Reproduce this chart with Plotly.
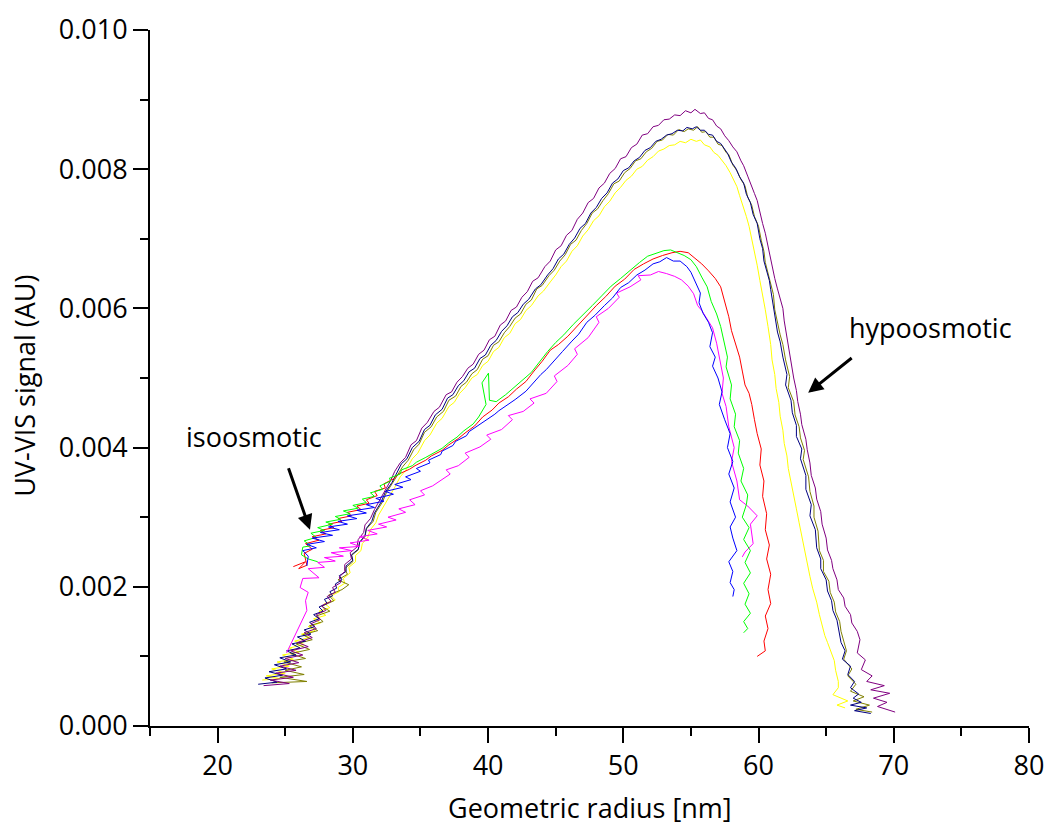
import plotly.graph_objects as go

# ---- data: (geometric radius [nm], UV-VIS signal [AU]) ----
navy = [
(23.0,.00060),(24.4,.00063),(23.5,.00069),(24.8,.00073),(23.8,.00078),(25.1,.00082),(24.2,.00088),(25.4,.00092),(24.6,.00098),(25.8,.00102),(25.1,.00108),(26.1,.00112),(25.5,.00118),(26.5,.00122),(25.9,.00128),(26.9,.00132),(26.4,.00138),(27.2,.00143),(26.8,.00149),(27.5,.00154),(27.1,.00160),(27.8,.00165),(27.5,.00171),(28.1,.00176),(27.9,.00182),(28.5,.00187),(28.3,.00193),(28.8,.00198),(28.7,.00204),(29.2,.00210),(29.0,.00216),(29.5,.00222),(29.5,.00230),(30.0,.00238),(29.9,.00246),(30.4,.00254),(30.5,.00264),(30.9,.00274),(31.0,.00284),(31.4,.00294),(31.6,.00306),(32.1,.00322),(32.4,.00336),(32.9,.00350),(33.6,.00377),(34.0,.00384),(34.4,.00400),(34.9,.00409),(35.3,.00426),(35.7,.00432),(36.1,.00447),(36.6,.00455),(37.0,.00471),(37.4,.00476),(37.8,.00489),(38.2,.00496),(38.6,.00509),(39.0,.00514),(39.4,.00528),(39.8,.00533),(40.2,.00547),(40.6,.00554),(41.0,.00567),(41.4,.00575),(41.8,.00588),(42.2,.00594),(42.6,.00606),(43.0,.00613),(43.5,.00628),(43.9,.00634),(44.4,.00648),(44.8,.00657),(45.2,.00671),(45.6,.00678),(46.0,.00692),(46.4,.00701),(46.8,.00715),(47.2,.00722),(47.6,.00737),(48.0,.00745),(48.4,.00758),(48.8,.00766),(49.2,.00780),(49.6,.00786),(50.0,.00798),(50.4,.00802),(50.8,.00812),(51.2,.00817),(51.6,.00827),(52.0,.00831),(52.4,.00840),(52.8,.00843),(53.2,.00849),(53.6,.00851),(54.0,.00856),(54.4,.00855),(54.7,.00860),(55.1,.00858),(55.4,.00861),(55.7,.00856),(56.0,.00856),(56.3,.00850),(56.6,.00849),(56.9,.00840),(57.2,.00837),(57.5,.00828),(57.7,.00823),(58.0,.00810),(58.3,.00802),(58.6,.00789),(58.9,.00780),(59.1,.00764),(59.4,.00752),(59.6,.00735),(59.9,.00722),(60.1,.00700),(60.3,.00686),(60.4,.00668),(60.6,.00655),(60.8,.00640),(60.9,.00627),(61.1,.00603),(61.3,.00583),(61.4,.00566),(61.6,.00552),(61.7,.00540),(61.8,.00530),(62.1,.00505),(62.0,.00490),(62.4,.00468),(62.5,.00450),(62.8,.00432),(62.8,.00416),(63.2,.00398),(63.1,.00384),(63.5,.00360),(63.5,.00340),(63.9,.00318),(63.8,.00302),(64.2,.00282),(64.3,.00256),(64.6,.00240),(64.6,.00226),(65.0,.00210),(65.1,.00194),(65.4,.00180),(65.5,.00166),(65.8,.00152),(66.0,.00134),(66.1,.00120),(66.4,.00108),(66.2,.00096),(66.8,.00086),(66.6,.00074),(67.1,.00064),(66.8,.00055),(67.4,.00046),(67.0,.00040),(67.6,.00034),(66.8,.00030),(68.0,.00026),(67.1,.00022),(68.3,.00018)
]
olive = [
(24.0,.00062),(26.6,.00064),(24.6,.00070),(26.4,.00074),(25.0,.00080),(26.2,.00085),(24.9,.00092),(26.5,.00097),(25.4,.00104),(26.8,.00110),(25.8,.00118),(27.0,.00124),(26.3,.00131),(27.4,.00137),(26.8,.00144),(27.8,.00150),(27.3,.00158),(28.3,.00165),(27.7,.00172),(28.6,.00180),(28.2,.00188),(29.2,.00196),(29.7,.00203),(28.9,.00210),(29.6,.00218),(29.4,.00226),(30.0,.00236),(29.9,.00245),(30.4,.00253),(30.5,.00264),(30.9,.00272),(31.0,.00283),(31.5,.00294),(31.7,.00307),(32.2,.00322),(32.5,.00336),(32.9,.00348),(33.3,.00360),(33.7,.00373),(34.1,.00382),(34.5,.00397),(34.9,.00405),(35.3,.00422),(35.8,.00430),(36.2,.00444),(36.7,.00452),(37.1,.00468),(37.6,.00474),(38.0,.00488),(38.4,.00494),(38.8,.00506),(39.2,.00512),(39.6,.00527),(40.0,.00532),(40.4,.00547),(40.8,.00552),(41.2,.00565),(41.6,.00574),(42.0,.00586),(42.4,.00592),(42.8,.00606),(43.2,.00612),(43.6,.00628),(44.0,.00633),(44.5,.00647),(44.9,.00655),(45.3,.00668),(45.7,.00677),(46.1,.00692),(46.5,.00698),(46.9,.00712),(47.3,.00722),(47.7,.00737),(48.1,.00743),(48.5,.00755),(48.9,.00765),(49.3,.00779),(49.7,.00783),(50.1,.00795),(50.5,.00801),(50.9,.00812),(51.3,.00815),(51.7,.00825),(52.1,.00830),(52.5,.00840),(52.9,.00842),(53.3,.00850),(53.7,.00849),(54.1,.00857),(54.5,.00854),(54.8,.00858),(55.2,.00856),(55.5,.00861),(55.8,.00853),(56.1,.00854),(56.4,.00846),(56.7,.00846),(57.0,.00836),(57.3,.00834),(57.6,.00824),(57.8,.00821),(58.1,.00806),(58.4,.00798),(58.7,.00785),(59.0,.00776),(59.2,.00760),(59.5,.00748),(59.7,.00732),(60.0,.00718),(60.2,.00698),(60.4,.00682),(60.5,.00666),(60.7,.00652),(60.9,.00636),(61.1,.00620),(61.2,.00598),(61.4,.00578),(61.6,.00562),(61.8,.00548),(61.9,.00536),(62.0,.00526),(62.3,.00502),(62.2,.00486),(62.6,.00466),(62.7,.00447),(63.0,.00430),(63.1,.00414),(63.4,.00396),(63.3,.00383),(63.7,.00358),(63.8,.00337),(64.1,.00316),(64.1,.00300),(64.4,.00280),(64.5,.00252),(64.8,.00238),(64.8,.00222),(65.2,.00208),(65.3,.00192),(65.6,.00178),(65.7,.00164),(66.0,.00150),(66.1,.00136),(66.3,.00122),(66.5,.00108),(66.3,.00096),(66.9,.00082),(66.6,.00072),(67.2,.00060),(66.8,.00050),(67.8,.00042),(67.0,.00036),(68.2,.00030),(67.2,.00024),(68.4,.00020)
]
purple = [
(23.4,.00058),(25.3,.00061),(23.9,.00066),(25.6,.00070),(24.3,.00076),(25.8,.00080),(24.6,.00086),(26.0,.00091),(25.0,.00097),(26.3,.00102),(25.4,.00108),(26.7,.00114),(25.9,.00120),(27.0,.00127),(26.4,.00134),(27.3,.00140),(26.9,.00147),(27.6,.00153),(27.3,.00160),(28.0,.00166),(27.7,.00173),(28.4,.00179),(28.1,.00186),(28.7,.00192),(28.5,.00199),(29.1,.00206),(29.0,.00214),(29.4,.00222),(29.4,.00232),(29.9,.00240),(29.8,.00249),(30.3,.00257),(30.4,.00268),(30.8,.00278),(30.9,.00289),(31.3,.00298),(31.6,.00311),(32.0,.00325),(32.4,.00340),(32.8,.00353),(33.1,.00366),(33.5,.00378),(33.9,.00386),(34.3,.00404),(34.7,.00410),(35.1,.00428),(35.5,.00436),(36.0,.00452),(36.4,.00458),(36.9,.00476),(37.3,.00480),(37.7,.00494),(38.1,.00502),(38.5,.00514),(38.9,.00520),(39.3,.00534),(39.7,.00540),(40.1,.00555),(40.5,.00560),(40.9,.00576),(41.3,.00582),(41.7,.00597),(42.1,.00602),(42.5,.00616),(42.9,.00624),(43.3,.00639),(43.7,.00644),(44.2,.00660),(44.6,.00668),(45.0,.00684),(45.4,.00690),(45.8,.00705),(46.2,.00712),(46.6,.00728),(47.0,.00737),(47.4,.00752),(47.8,.00758),(48.2,.00773),(48.6,.00780),(49.0,.00794),(49.4,.00801),(49.8,.00815),(50.2,.00818),(50.6,.00831),(51.0,.00836),(51.4,.00849),(51.8,.00851),(52.2,.00861),(52.6,.00863),(53.0,.00871),(53.4,.00872),(53.8,.00878),(54.2,.00877),(54.6,.00884),(55.0,.00881),(55.3,.00886),(55.7,.00880),(56.0,.00881),(56.3,.00873),(56.6,.00871),(56.9,.00862),(57.2,.00858),(57.5,.00848),(57.8,.00841),(58.1,.00832),(58.4,.00825),(58.7,.00812),(58.9,.00805),(59.2,.00790),(59.4,.00781),(59.7,.00765),(59.9,.00755),(60.1,.00736),(60.3,.00722),(60.5,.00708),(60.6,.00698),(60.8,.00678),(61.0,.00662),(61.2,.00643),(61.4,.00628),(61.6,.00612),(61.8,.00600),(61.9,.00582),(62.0,.00570),(62.2,.00548),(62.3,.00535),(62.5,.00515),(62.6,.00500),(62.8,.00482),(62.9,.00466),(63.1,.00448),(63.2,.00433),(63.5,.00412),(63.6,.00397),(63.8,.00378),(63.9,.00360),(64.2,.00342),(64.3,.00326),(64.6,.00308),(64.7,.00290),(65.0,.00270),(65.1,.00253),(65.4,.00238),(65.5,.00226),(65.8,.00210),(65.9,.00196),(66.3,.00184),(66.4,.00172),(66.8,.00160),(66.9,.00148),(67.3,.00136),(67.5,.00124),(67.3,.00105),(67.9,.00095),(67.6,.00081),(68.4,.00072),(68.0,.00064),(69.3,.00058),(68.3,.00052),(69.7,.00047),(68.5,.00040),(69.5,.00034),(68.8,.00028),(70.1,.00020)
]
yellow = [
(23.3,.00066),(24.6,.00068),(23.6,.00072),(25.0,.00076),(24.0,.00082),(25.3,.00086),(24.4,.00092),(25.6,.00096),(24.8,.00102),(26.0,.00106),(25.3,.00112),(26.4,.00117),(25.7,.00122),(26.8,.00127),(26.2,.00132),(27.2,.00137),(26.7,.00143),(27.6,.00148),(27.1,.00154),(28.0,.00159),(27.5,.00165),(28.3,.00170),(27.9,.00176),(28.7,.00181),(28.4,.00187),(29.0,.00193),(28.9,.00199),(29.4,.00205),(29.3,.00212),(29.8,.00220),(29.7,.00228),(30.2,.00236),(30.2,.00245),(30.6,.00252),(30.7,.00262),(31.1,.00271),(31.3,.00282),(31.7,.00292),(31.9,.00303),(32.3,.00316),(32.7,.00331),(33.1,.00343),(33.5,.00358),(33.9,.00367),(34.4,.00384),(34.8,.00392),(35.3,.00410),(35.7,.00418),(36.2,.00435),(36.6,.00442),(37.1,.00459),(37.5,.00465),(37.9,.00478),(38.3,.00486),(38.8,.00500),(39.2,.00505),(39.6,.00518),(40.0,.00524),(40.4,.00538),(40.8,.00544),(41.2,.00558),(41.6,.00564),(42.0,.00578),(42.4,.00584),(42.8,.00597),(43.2,.00604),(43.7,.00618),(44.1,.00625),(44.6,.00638),(45.0,.00648),(45.4,.00660),(45.8,.00668),(46.2,.00682),(46.6,.00690),(47.0,.00704),(47.4,.00713),(47.8,.00726),(48.2,.00733),(48.6,.00746),(49.0,.00754),(49.4,.00766),(49.8,.00774),(50.2,.00784),(50.6,.00790),(51.0,.00800),(51.4,.00804),(51.8,.00813),(52.2,.00818),(52.6,.00826),(53.0,.00829),(53.4,.00834),(53.8,.00835),(54.2,.00840),(54.6,.00838),(55.0,.00843),(55.4,.00840),(55.7,.00842),(56.0,.00835),(56.4,.00832),(56.7,.00824),(57.0,.00820),(57.3,.00812),(57.6,.00805),(57.9,.00795),(58.1,.00786),(58.4,.00775),(58.6,.00762),(58.9,.00745),(59.1,.00732),(59.3,.00718),(59.5,.00700),(59.7,.00680),(59.9,.00662),(60.1,.00640),(60.3,.00620),(60.5,.00598),(60.7,.00574),(60.9,.00548),(61.0,.00526),(61.2,.00505),(61.3,.00485),(61.5,.00465),(61.6,.00445),(61.8,.00425),(61.9,.00406),(62.1,.00388),(62.2,.00370),(62.4,.00352),(62.6,.00332),(62.8,.00312),(63.0,.00292),(63.2,.00272),(63.4,.00252),(63.6,.00232),(63.8,.00215),(64.0,.00198),(64.3,.00178),(64.5,.00160),(64.7,.00144),(64.9,.00130),(65.1,.00120),(65.3,.00110),(65.6,.00094),(65.7,.00080),(65.9,.00064),(65.9,.00055),(65.5,.00045),(66.6,.00036),(65.8,.00030),(66.4,.00026)
]
red = [
(25.6,.00229),(26.5,.00236),(26.0,.00226),(26.6,.00231),(26.4,.00248),(27.0,.00254),(26.5,.00262),(27.5,.00267),(27.0,.00272),(28.0,.00276),(27.6,.00281),(28.6,.00285),(28.2,.00290),(29.2,.00294),(28.9,.00298),(29.9,.00302),(29.6,.00307),(30.6,.00311),(30.3,.00316),(31.2,.00320),(31.0,.00325),(31.8,.00331),(31.6,.00337),(32.4,.00342),(32.3,.00348),(33.0,.00355),(33.4,.00362),(34.2,.00369),(34.6,.00374),(35.4,.00382),(35.8,.00388),(36.6,.00396),(37.1,.00404),(37.8,.00413),(38.3,.00421),(39.0,.00431),(39.6,.00444),(40.3,.00454),(40.8,.00464),(41.5,.00473),(42.1,.00484),(42.8,.00495),(43.4,.00510),(44.0,.00524),(44.6,.00540),(45.2,.00548),(45.9,.00560),(46.6,.00575),(47.3,.00590),(48.0,.00604),(48.7,.00617),(49.4,.00632),(50.1,.00642),(50.8,.00656),(51.5,.00664),(52.2,.00671),(52.9,.00676),(53.6,.00680),(54.2,.00682),(54.8,.00680),(55.3,.00672),(55.8,.00664),(56.3,.00654),(56.8,.00643),(57.2,.00631),(57.5,.00610),(57.8,.00588),(58.0,.00568),(58.3,.00548),(58.6,.00530),(58.8,.00510),(59.0,.00490),(59.3,.00478),(59.5,.00462),(59.7,.00440),(59.9,.00420),(60.2,.00398),(60.1,.00375),(60.4,.00352),(60.3,.00330),(60.6,.00305),(60.5,.00282),(60.8,.00260),(60.6,.00240),(60.9,.00218),(60.7,.00196),(60.9,.00176),(60.5,.00158),(60.7,.00140),(60.4,.00122),(60.5,.00108),(59.9,.00100)
]
green = [
(27.4,.00236),(26.7,.00240),(26.2,.00246),(26.3,.00257),(26.9,.00259),(26.4,.00266),(27.3,.00271),(26.9,.00277),(27.9,.00281),(27.4,.00285),(28.5,.00290),(28.0,.00293),(29.1,.00297),(28.7,.00301),(29.8,.00305),(29.3,.00309),(30.4,.00313),(30.0,.00317),(31.0,.00321),(30.7,.00326),(31.6,.00330),(31.3,.00335),(32.2,.00340),(32.0,.00345),(32.8,.00352),(32.7,.00356),(33.5,.00362),(33.6,.00368),(34.4,.00374),(34.7,.00379),(35.4,.00386),(35.9,.00391),(36.6,.00399),(37.1,.00407),(37.7,.00415),(38.2,.00424),(38.9,.00434),(39.3,.00444),(39.85,.00462),(39.55,.00493),(40.03,.00507),(40.1,.00468),(40.6,.00466),(41.3,.00476),(41.9,.00486),(42.6,.00497),(43.2,.00508),(43.8,.00523),(44.4,.00538),(45.0,.00551),(45.6,.00562),(46.3,.00577),(47.0,.00590),(47.7,.00604),(48.4,.00618),(49.1,.00632),(49.8,.00643),(50.5,.00655),(51.2,.00666),(51.8,.00675),(52.4,.00679),(53.0,.00683),(53.5,.00684),(54.0,.00680),(54.5,.00676),(55.0,.00670),(55.4,.00660),(55.8,.00645),(56.2,.00631),(56.5,.00610),(56.9,.00592),(57.2,.00574),(57.4,.00555),(57.7,.00530),(57.6,.00516),(58.0,.00490),(57.9,.00470),(58.3,.00448),(58.2,.00430),(58.6,.00410),(58.5,.00392),(58.9,.00370),(58.7,.00352),(59.2,.00332),(59.1,.00318),(58.8,.00300),(59.3,.00285),(58.9,.00268),(59.4,.00252),(59.0,.00235),(59.4,.00220),(58.9,.00205),(59.3,.00190),(59.0,.00175),(59.4,.00162),(58.9,.00150),(59.2,.00140),(58.9,.00134)
]
blue = [
(26.6,.00230),(26.7,.00244),(26.3,.00252),(27.3,.00256),(26.6,.00261),(27.9,.00265),(27.0,.00270),(28.5,.00274),(27.6,.00278),(29.0,.00282),(28.2,.00286),(29.6,.00290),(28.9,.00294),(30.3,.00298),(29.6,.00302),(31.0,.00306),(30.3,.00310),(31.6,.00314),(31.0,.00318),(32.3,.00323),(31.7,.00327),(33.0,.00333),(32.4,.00337),(33.7,.00343),(33.1,.00347),(34.3,.00354),(33.9,.00358),(35.0,.00366),(34.7,.00370),(35.7,.00378),(35.6,.00382),(36.5,.00390),(36.6,.00395),(37.4,.00403),(37.6,.00409),(38.4,.00417),(38.6,.00423),(39.4,.00433),(39.7,.00438),(40.5,.00448),(40.8,.00453),(41.6,.00463),(42.0,.00469),(42.8,.00481),(43.2,.00490),(43.9,.00505),(44.3,.00512),(45.0,.00528),(45.5,.00538),(46.2,.00553),(46.7,.00563),(47.3,.00580),(47.9,.00590),(48.6,.00604),(49.2,.00615),(49.8,.00630),(50.4,.00637),(51.0,.00648),(51.6,.00655),(52.2,.00664),(52.7,.00667),(53.2,.00673),(53.7,.00668),(54.2,.00668),(54.7,.00660),(55.0,.00652),(55.3,.00640),(55.7,.00622),(55.6,.00608),(55.9,.00593),(56.3,.00580),(56.6,.00565),(56.4,.00545),(56.8,.00530),(56.6,.00517),(57.0,.00500),(57.3,.00480),(57.1,.00462),(57.5,.00440),(57.9,.00420),(57.7,.00400),(58.1,.00380),(57.8,.00362),(58.2,.00342),(57.9,.00322),(58.3,.00300),(57.9,.00286),(58.1,.00270),(58.4,.00252),(57.8,.00236),(58.1,.00222),(57.9,.00206),(58.2,.00196),(58.1,.00186)
]
magenta = [
(25.1,.00105),(25.6,.00125),(26.1,.00145),(26.6,.00166),(26.5,.00180),(26.7,.00192),(26.1,.00199),(26.3,.00212),(27.5,.00213),(27.1,.00220),(26.7,.00226),(27.9,.00228),(27.4,.00235),(28.7,.00237),(27.9,.00242),(29.3,.00244),(28.4,.00249),(29.9,.00252),(29.0,.00256),(30.5,.00258),(29.8,.00263),(31.2,.00267),(30.5,.00272),(31.8,.00276),(31.1,.00281),(32.5,.00286),(31.9,.00290),(33.2,.00296),(32.6,.00300),(33.9,.00307),(33.4,.00312),(34.6,.00318),(34.2,.00325),(35.3,.00332),(35.0,.00338),(35.9,.00345),(36.4,.00352),(37.2,.00362),(36.9,.00368),(37.8,.00374),(38.6,.00386),(38.3,.00392),(39.4,.00401),(40.2,.00412),(39.9,.00418),(41.0,.00426),(41.8,.00440),(41.5,.00446),(42.6,.00452),(43.4,.00464),(43.1,.00470),(44.3,.00478),(45.1,.00495),(44.9,.00503),(45.9,.00518),(46.6,.00534),(46.4,.00542),(47.4,.00558),(48.2,.00580),(48.0,.00588),(48.9,.00600),(49.7,.00616),(49.5,.00622),(50.5,.00631),(51.3,.00641),(51.1,.00647),(52.0,.00648),(52.6,.00653),(53.2,.00650),(53.8,.00646),(54.3,.00641),(54.8,.00632),(55.2,.00621),(55.5,.00604),(55.8,.00597),(56.2,.00585),(56.6,.00572),(56.9,.00550),(57.1,.00530),(57.4,.00500),(57.3,.00478),(57.6,.00459),(57.8,.00430),(58.2,.00400),(58.0,.00380),(58.4,.00352),(58.6,.00325),(59.2,.00316),(59.9,.00302),(59.4,.00290),(59.6,.00262),(59.0,.00250),(58.8,.00243)
]

series = [
    ("yellow", yellow, "#FFFF00"),
    ("olive", olive, "#808000"),
    ("navy", navy, "#000080"),
    ("purple", purple, "#800080"),
    ("magenta", magenta, "#FF00FF"),
    ("red", red, "#FF0000"),
    ("green", green, "#00FF00"),
    ("blue", blue, "#0000FF"),
]

x_ticks = [20, 30, 40, 50, 60, 70, 80]
y_ticks = [0.000, 0.002, 0.004, 0.006, 0.008, 0.010]

fig = go.Figure()
for name, pts, col in series:
    fig.add_trace(go.Scatter(
        x=[p[0] for p in pts], y=[p[1] for p in pts], mode="lines", name=name,
        line=dict(color=col, width=1), hoverinfo="skip"))

FONT = "Open Sans"
FS = 27
axis_common = dict(
    showline=True, linewidth=2, linecolor="black", showgrid=False, zeroline=False,
    ticks="outside", ticklen=15, tickwidth=2, tickcolor="black", automargin=False,
    tickfont=dict(family=FONT, size=FS, color="black"),
)
fig.update_xaxes(range=[15, 80], tickvals=x_ticks, ticktext=[str(v) for v in x_ticks],
                 minor=dict(ticks="outside", ticklen=8, tickwidth=2, tickcolor="black",
                            dtick=5, tick0=15, showgrid=False),
                 ticklabelstandoff=0, **axis_common)
fig.update_yaxes(range=[0, 0.010], tickvals=y_ticks, ticktext=[f"{v:.3f}" for v in y_ticks],
                 minor=dict(ticks="outside", ticklen=8, tickwidth=2, tickcolor="black",
                            dtick=0.001, tick0=0, showgrid=False),
                 ticklabelstandoff=0, **axis_common)

annos = [
    dict(text="Geometric radius [nm]", xref="paper", yref="paper", x=0.5, y=-0.1178,
         showarrow=False, xanchor="center", yanchor="middle", font=dict(family=FONT, size=FS)),
    dict(text="UV-VIS signal (AU)", xref="paper", yref="paper", x=-0.1435, y=0.4885,
         showarrow=False, xanchor="center", yanchor="middle", textangle=-90,
         font=dict(family=FONT, size=FS)),
    dict(text="isoosmotic", x=22.69, y=0.00416, showarrow=False,
         font=dict(family=FONT, size=FS)),
    dict(text="hypoosmotic", x=72.69, y=0.00572, showarrow=False,
         font=dict(family=FONT, size=FS)),
    dict(text="", x=26.83, y=0.002821, ax=-22, ay=-63, showarrow=True,
         arrowhead=2, arrowsize=1, arrowwidth=3, arrowcolor="black"),
    dict(text="", x=63.67, y=0.004788, ax=45, ay=-36, showarrow=True,
         arrowhead=2, arrowsize=1, arrowwidth=3, arrowcolor="black"),
]

fig.update_layout(
    width=1047, height=830,
    margin=dict(l=150, r=18, t=30, b=104),
    plot_bgcolor="white", paper_bgcolor="white",
    showlegend=False,
    font=dict(family=FONT, size=FS, color="black"),
    annotations=annos,
)

fig.write_html("out.html")
